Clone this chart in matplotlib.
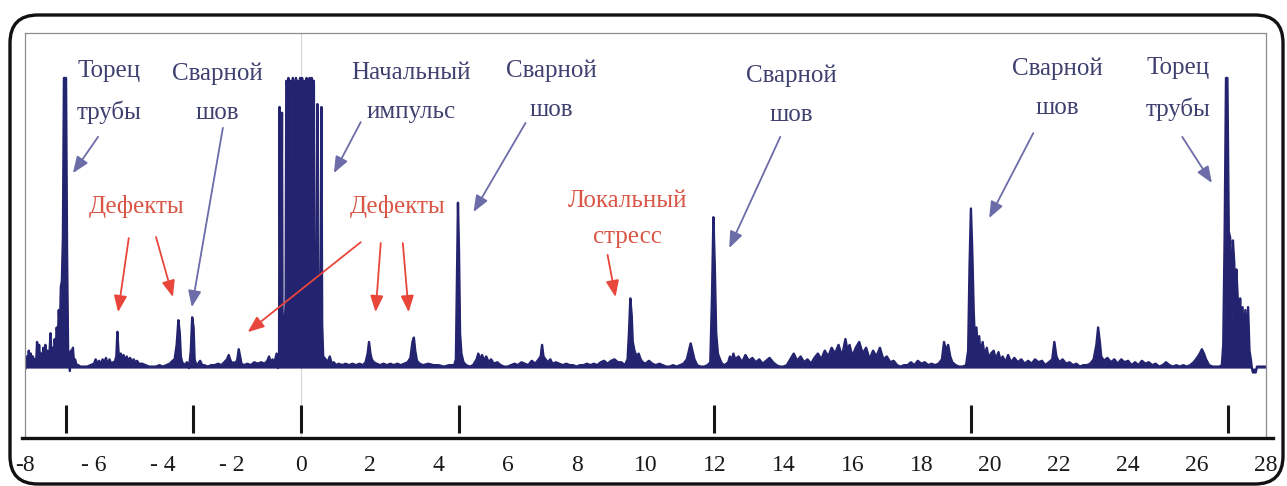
import numpy as np
import matplotlib.pyplot as plt
from matplotlib.patches import FancyBboxPatch
from matplotlib.lines import Line2D

plt.rcParams['font.family'] = ['Liberation Serif', 'DejaVu Serif']

# rectified echo trace, (distance m, amplitude %) read along the pipe
near_zone = [
    (-7.98, 0), (-7.95, 4), (-7.92, 1), (-7.89, 6), (-7.86, 2), (-7.83, 5), (-7.80, 1),
    (-7.77, 4), (-7.74, 2), (-7.71, 3), (-7.68, 1), (-7.65, 9), (-7.62, 3), (-7.59, 8),
    (-7.56, 2), (-7.53, 5), (-7.50, 2), (-7.47, 7), (-7.44, 3), (-7.41, 8), (-7.38, 3),
    (-7.35, 6), (-7.32, 2), (-7.29, 5), (-7.26, 12), (-7.23, 4), (-7.20, 7), (-7.17, 3),
    (-7.14, 10), (-7.11, 6), (-7.08, 14), (-7.05, 9), (-7.02, 20), (-6.99, 12), (-6.96, 28),
    (-6.93, 30), (-6.90, 45), (-6.87, 100), (-6.84, 100), (-6.81, 100), (-6.78, 40),
    (-6.75, 6), (-6.72, 2), (-6.70, -1), (-6.67, 6), (-6.64, 4), (-6.61, 7), (-6.58, 2),
    (-6.55, 3), (-6.50, 1), (-6.45, 1), (-6.40, 0.5), (-6.30, 0.5), (-6.20, 0.5), (-6.10, 1),
    (-6.00, 1.5), (-5.95, 3), (-5.90, 1.5), (-5.85, 2.5), (-5.80, 1), (-5.75, 3), (-5.70, 2),
    (-5.65, 3.5), (-5.60, 1), (-5.55, 3), (-5.50, 1.5), (-5.45, 2), (-5.40, 2), (-5.35, 4),
    (-5.32, 12.5), (-5.29, 6), (-5.26, 3), (-5.22, 5), (-5.18, 3), (-5.14, 4.5), (-5.10, 2.5),
    (-5.05, 4), (-5.00, 2.5), (-4.95, 3.5), (-4.90, 2), (-4.85, 3), (-4.80, 2), (-4.75, 2.5),
    (-4.70, 1.5), (-4.60, 1.5), (-4.50, 1), (-4.40, 0.5), (-4.30, 0.5), (-4.20, 0.5),
    (-4.10, 1), (-4.00, 0.5), (-3.90, 1), (-3.80, 1.5), (-3.72, 2.5), (-3.66, 3), (-3.60, 8),
    (-3.55, 16.5), (-3.51, 12), (-3.48, 4), (-3.44, 2), (-3.38, 1), (-3.30, 2), (-3.24, 0),
    (-3.19, 6), (-3.15, 17.5), (-3.11, 14), (-3.08, 3), (-3.03, 1), (-2.98, 1.5), (-2.92, 2.5),
    (-2.86, 1), (-2.80, 1), (-2.70, 0.5), (-2.60, 1), (-2.50, 1), (-2.40, 1.5), (-2.30, 1),
    (-2.22, 2), (-2.14, 3), (-2.09, 4.5), (-2.05, 3), (-2.00, 1.5), (-1.95, 2), (-1.90, 1.5),
    (-1.84, 3), (-1.80, 6.5), (-1.76, 4), (-1.72, 1.5), (-1.65, 1), (-1.55, 1.5), (-1.45, 1),
    (-1.35, 2), (-1.25, 1.5), (-1.15, 2), (-1.05, 1.5), (-0.97, 2.5), (-0.92, 4), (-0.88, 2),
    (-0.82, 3), (-0.76, 2), (-0.70, 5),
]

pulse_zone = [
    (-0.66, 0), (-0.63, 3), (-0.615, 90), (-0.595, 30), (-0.58, 6), (-0.56, 40), (-0.545, 88),
    (-0.53, 20), (-0.50, 8), (-0.47, 15), (-0.44, 22), (-0.42, 99), (-0.39, 97), (-0.36, 100),
    (-0.33, 96), (-0.31, 18), (-0.29, 99), (-0.26, 95), (-0.23, 100), (-0.20, 98), (-0.17, 94),
    (-0.14, 100), (-0.11, 97), (-0.08, 99), (-0.05, 93), (-0.02, 100), (0.01, 98), (0.04, 100),
    (0.07, 96), (0.10, 99), (0.12, 20), (0.14, 97), (0.17, 100), (0.20, 94), (0.23, 99),
    (0.26, 100), (0.29, 95), (0.32, 100), (0.35, 98), (0.38, 99), (0.40, 25), (0.43, 12),
    (0.46, 30), (0.48, 91), (0.50, 20), (0.53, 10), (0.57, 35), (0.60, 90), (0.62, 15),
    (0.65, 4),
]

mid_zone = [
    (0.72, 3), (0.78, 2), (0.84, 4), (0.90, 1.5), (0.96, 2), (1.02, 1), (1.10, 1.5), (1.20, 1),
    (1.30, 1.5), (1.40, 1), (1.50, 1.5), (1.60, 1), (1.70, 1.5), (1.80, 1), (1.88, 2),
    (1.94, 5), (1.98, 9), (2.02, 5), (2.06, 3), (2.12, 2), (2.20, 1.5), (2.30, 1), (2.40, 1.5),
    (2.50, 1), (2.60, 1.5), (2.70, 1), (2.80, 1.5), (2.90, 1), (3.00, 1.5), (3.10, 2),
    (3.18, 3.5), (3.24, 9), (3.28, 10.5), (3.32, 6), (3.37, 2.5), (3.45, 1.5), (3.55, 1),
    (3.70, 1.5), (3.85, 1), (4.00, 1), (4.15, 0.5), (4.30, 1), (4.45, 1), (4.50, 3),
    (4.53, 30), (4.56, 57), (4.59, 40), (4.62, 12), (4.66, 5), (4.72, 2), (4.80, 1),
    (4.90, 0.5), (5.00, 1), (5.10, 3), (5.15, 5), (5.20, 3), (5.26, 4.5), (5.32, 2.5),
    (5.38, 4), (5.45, 2), (5.52, 3), (5.60, 1.5), (5.70, 2), (5.80, 1), (5.90, 0.5),
    (6.00, 0.5), (6.10, 1), (6.20, 1.5), (6.30, 1), (6.40, 2), (6.50, 1.5), (6.60, 1),
    (6.70, 2.5), (6.80, 1.5), (6.90, 3), (6.96, 4), (7.00, 8), (7.04, 4), (7.10, 3),
    (7.16, 2), (7.24, 3), (7.30, 1.5), (7.40, 2), (7.50, 1.5), (7.60, 1), (7.70, 1.5),
    (7.80, 1), (7.90, 1), (8.00, 0.5), (8.10, 1), (8.20, 1), (8.30, 1.5), (8.40, 1),
    (8.50, 1.5), (8.60, 1), (8.70, 2), (8.80, 2.5), (8.90, 1.5), (9.00, 2.5), (9.10, 3),
    (9.20, 2), (9.30, 2), (9.40, 1), (9.48, 3), (9.52, 12), (9.56, 24), (9.60, 18),
    (9.63, 9), (9.68, 6), (9.74, 4), (9.80, 5), (9.86, 3), (9.92, 2), (10.00, 1.5),
    (10.10, 2.5), (10.20, 1.5), (10.30, 1), (10.40, 1.5), (10.50, 1), (10.60, 0.5),
    (10.70, 0.5), (10.80, 1), (10.90, 0.5), (11.00, 1), (11.10, 1.5), (11.20, 3),
    (11.26, 6), (11.31, 8.5), (11.36, 6), (11.42, 3), (11.50, 1), (11.60, 0.5), (11.70, 0.5),
    (11.80, 1), (11.88, 2), (11.93, 25), (11.97, 52), (12.01, 35), (12.05, 12), (12.10, 5),
    (12.16, 3), (12.22, 1.5), (12.30, 1),
]

far_zone = [
    (12.40, 2), (12.45, 4), (12.50, 2.5), (12.55, 5), (12.60, 3), (12.70, 4), (12.80, 2),
    (12.90, 4.5), (13.00, 2.5), (13.10, 3.5), (13.20, 2), (13.30, 3), (13.40, 1.5),
    (13.50, 2.5), (13.60, 3.5), (13.70, 2), (13.80, 1), (13.90, 0.5), (14.00, 0.5),
    (14.10, 1), (14.20, 3), (14.30, 5), (14.40, 2.5), (14.50, 4), (14.60, 2), (14.70, 3),
    (14.80, 1.5), (14.90, 3.5), (15.00, 5), (15.10, 3), (15.20, 6), (15.30, 4), (15.40, 7),
    (15.50, 5), (15.60, 8), (15.70, 4), (15.80, 10), (15.86, 6), (15.92, 8), (16.00, 4),
    (16.10, 7), (16.20, 9), (16.30, 5), (16.40, 7), (16.50, 3), (16.60, 6), (16.70, 4),
    (16.80, 7), (16.90, 3), (17.00, 4), (17.10, 2), (17.20, 2.5), (17.30, 1), (17.40, 0.5),
    (17.50, 1), (17.60, 1), (17.70, 2), (17.80, 1), (17.90, 2.5), (18.00, 1.5), (18.10, 2),
    (18.20, 1), (18.30, 1.5), (18.40, 1), (18.50, 1.5), (18.60, 3), (18.66, 9), (18.72, 6),
    (18.78, 8), (18.84, 4), (18.90, 2), (19.00, 1), (19.10, 0.5), (19.20, 0.5), (19.30, 1),
    (19.36, 6), (19.40, 35), (19.44, 55), (19.48, 40), (19.52, 20), (19.56, 8), (19.60, 14),
    (19.64, 6), (19.68, 11), (19.72, 4), (19.78, 9), (19.84, 4), (19.90, 7), (19.96, 3),
    (20.02, 5), (20.10, 6), (20.16, 3), (20.24, 5.5), (20.30, 2.5), (20.36, 4), (20.44, 2),
    (20.52, 4.5), (20.60, 2), (20.70, 3.5), (20.80, 2), (20.90, 3), (21.00, 1.5),
    (21.10, 2.5), (21.20, 1.5), (21.30, 3), (21.40, 2), (21.50, 2.5), (21.60, 1), (21.70, 2),
    (21.80, 3), (21.86, 9), (21.92, 4), (22.00, 2), (22.10, 3), (22.20, 1.5), (22.30, 2),
    (22.40, 1), (22.50, 1.5), (22.60, 0.5), (22.70, 1), (22.80, 1), (22.90, 1.5), (23.00, 3),
    (23.08, 8), (23.13, 14), (23.18, 9), (23.22, 4), (23.30, 2.5), (23.40, 3.5), (23.50, 2),
    (23.60, 3), (23.70, 1.5), (23.80, 3), (23.90, 2), (24.00, 2.5), (24.10, 1), (24.20, 2),
    (24.30, 1), (24.40, 2.5), (24.50, 1.5), (24.60, 2), (24.70, 1), (24.80, 1.5),
    (24.90, 0.5), (25.00, 1), (25.10, 2), (25.20, 1), (25.30, 0.5), (25.40, 1), (25.50, 0.5),
    (25.60, 1), (25.70, 0.5), (25.80, 1), (25.90, 2), (26.00, 3.5), (26.08, 5), (26.14, 6.5),
    (26.20, 5), (26.26, 3), (26.35, 1), (26.45, 0.5), (26.55, 0.5), (26.65, 0.5), (26.72, 1),
    (26.76, 8), (26.80, 45), (26.84, 100), (26.88, 100), (26.92, 47), (26.96, 45),
    (27.00, 15), (27.04, 44), (27.08, 36), (27.11, 10), (27.14, 34), (27.18, 24), (27.21, 8),
    (27.25, 24), (27.28, 6), (27.32, 21), (27.36, 5), (27.40, 20), (27.44, 4), (27.48, 21),
    (27.52, 6), (27.56, 3), (27.59, 0), (27.62, -1.5), (27.70, -1.5), (27.74, 0.5),
    (27.85, 0.5), (28.00, 0.5),
]

# reference marks of identified features
marker_pos = [-6.82, -3.12, 0.0, 4.58, 12.0, 19.45, 26.9]

tick_pos = list(range(-8, 29, 2))
tick_labels = ['-8', '- 6', '- 4', '- 2'] + [str(t) for t in range(0, 29, 2)]

feature_labels = [
    ('Торец\nтрубы', -5.57, 106.2),
    ('Сварной\nшов', -2.43, 105.5),
    ('Начальный\nимпульс', 3.19, 105.5),
    ('Сварной\nшов', 7.28, 106.2),
    ('Сварной\nшов', 14.23, 104.5),
    ('Сварной\nшов', 21.94, 107.2),
    ('Торец\nтрубы', 25.45, 107.2),
]
defect_labels = [
    ('Дефекты', -4.75, 59.7),
    ('Дефекты', 2.81, 59.7),
    ('Локальный\nстресс', 9.48, 61.4),
]
feature_arrows = [
    ((-5.88, 79.7), (-6.61, 67.2)),
    ((-2.26, 82.8), (-3.16, 21.0)),
    ((1.74, 84.8), (0.96, 67.2)),
    ((6.52, 84.5), (5.01, 53.8)),
    ((13.91, 79.7), (12.43, 41.4)),
    ((21.25, 81.0), (19.97, 51.7)),
    ((25.57, 79.7), (26.43, 63.8)),
]
defect_arrows = [
    ((-4.99, 44.8), (-5.30, 19.3)),
    ((-4.20, 45.2), (-3.71, 24.5)),
    ((1.74, 43.4), (-1.54, 12.4)),
    ((2.32, 43.1), (2.17, 19.3)),
    ((2.96, 43.1), (3.13, 19.3)),
    ((8.90, 39.0), (9.13, 24.5)),
]

navy = '#24236f'
label_blue = '#3e4070'
arrow_blue = '#6c6ca8'
label_red = '#d95646'
arrow_red = '#e8463a'

trace = np.array(near_zone + pulse_zone + mid_zone + far_zone)
dist, amp = trace[:, 0], trace[:, 1]

W, H = 1287, 486
fig = plt.figure(figsize=(W / 100, H / 100), dpi=100)
ax = fig.add_axes([25 / W, 48 / H, 1241 / W, 405 / H])
ax.set_xlim(-8, 28)
ax.set_ylim(-24.1, 115.5)

ax.axvline(0, color='#d4d4d4', lw=0.8, zorder=0)
ax.fill_between(dist, 0, amp, color=navy, lw=0)
ax.plot(dist, amp, color=navy, lw=1.7)
ax.vlines(marker_pos, -22.4, -12.8, color='#151515', lw=2.2)

for s in ['top', 'left', 'right']:
    ax.spines[s].set_color('#8c8c8c')
    ax.spines[s].set_linewidth(0.9)
ax.spines['bottom'].set_visible(False)
ax.set_yticks([])
ax.set_xticks(tick_pos, tick_labels)
ax.tick_params(axis='x', length=0, pad=12, labelsize=17, labelcolor='#1a1a1a')

for txt, x, y in feature_labels:
    ax.text(x, y, txt, color=label_blue, fontsize=18, ha='center', va='top',
            linespacing=2.0, multialignment='center')
for txt, x, y in defect_labels:
    ax.text(x, y, txt, color=label_red, fontsize=18, ha='center', va='top',
            linespacing=1.85, multialignment='center')

for arrows, c in [(feature_arrows, arrow_blue), (defect_arrows, arrow_red)]:
    for tail, head in arrows:
        ax.annotate('', xy=head, xytext=tail,
                    arrowprops=dict(arrowstyle='-|>,head_length=0.55,head_width=0.22',
                                    color=c, lw=1.3, mutation_scale=18,
                                    shrinkA=0, shrinkB=0))

# distance axis line and the rounded outer border
fig.add_artist(Line2D([22 / 100, 1273 / 100], [(H - 438) / 100] * 2,
                      transform=fig.dpi_scale_trans, color='#111111', lw=2.4))
fig.add_artist(FancyBboxPatch((10 / 100, (H - 484) / 100), 1273 / 100, 469 / 100,
                              boxstyle='round,pad=0,rounding_size=0.28',
                              transform=fig.dpi_scale_trans, fill=False,
                              ec='#111111', lw=2.4))

fig.savefig('out.png', dpi=100)
